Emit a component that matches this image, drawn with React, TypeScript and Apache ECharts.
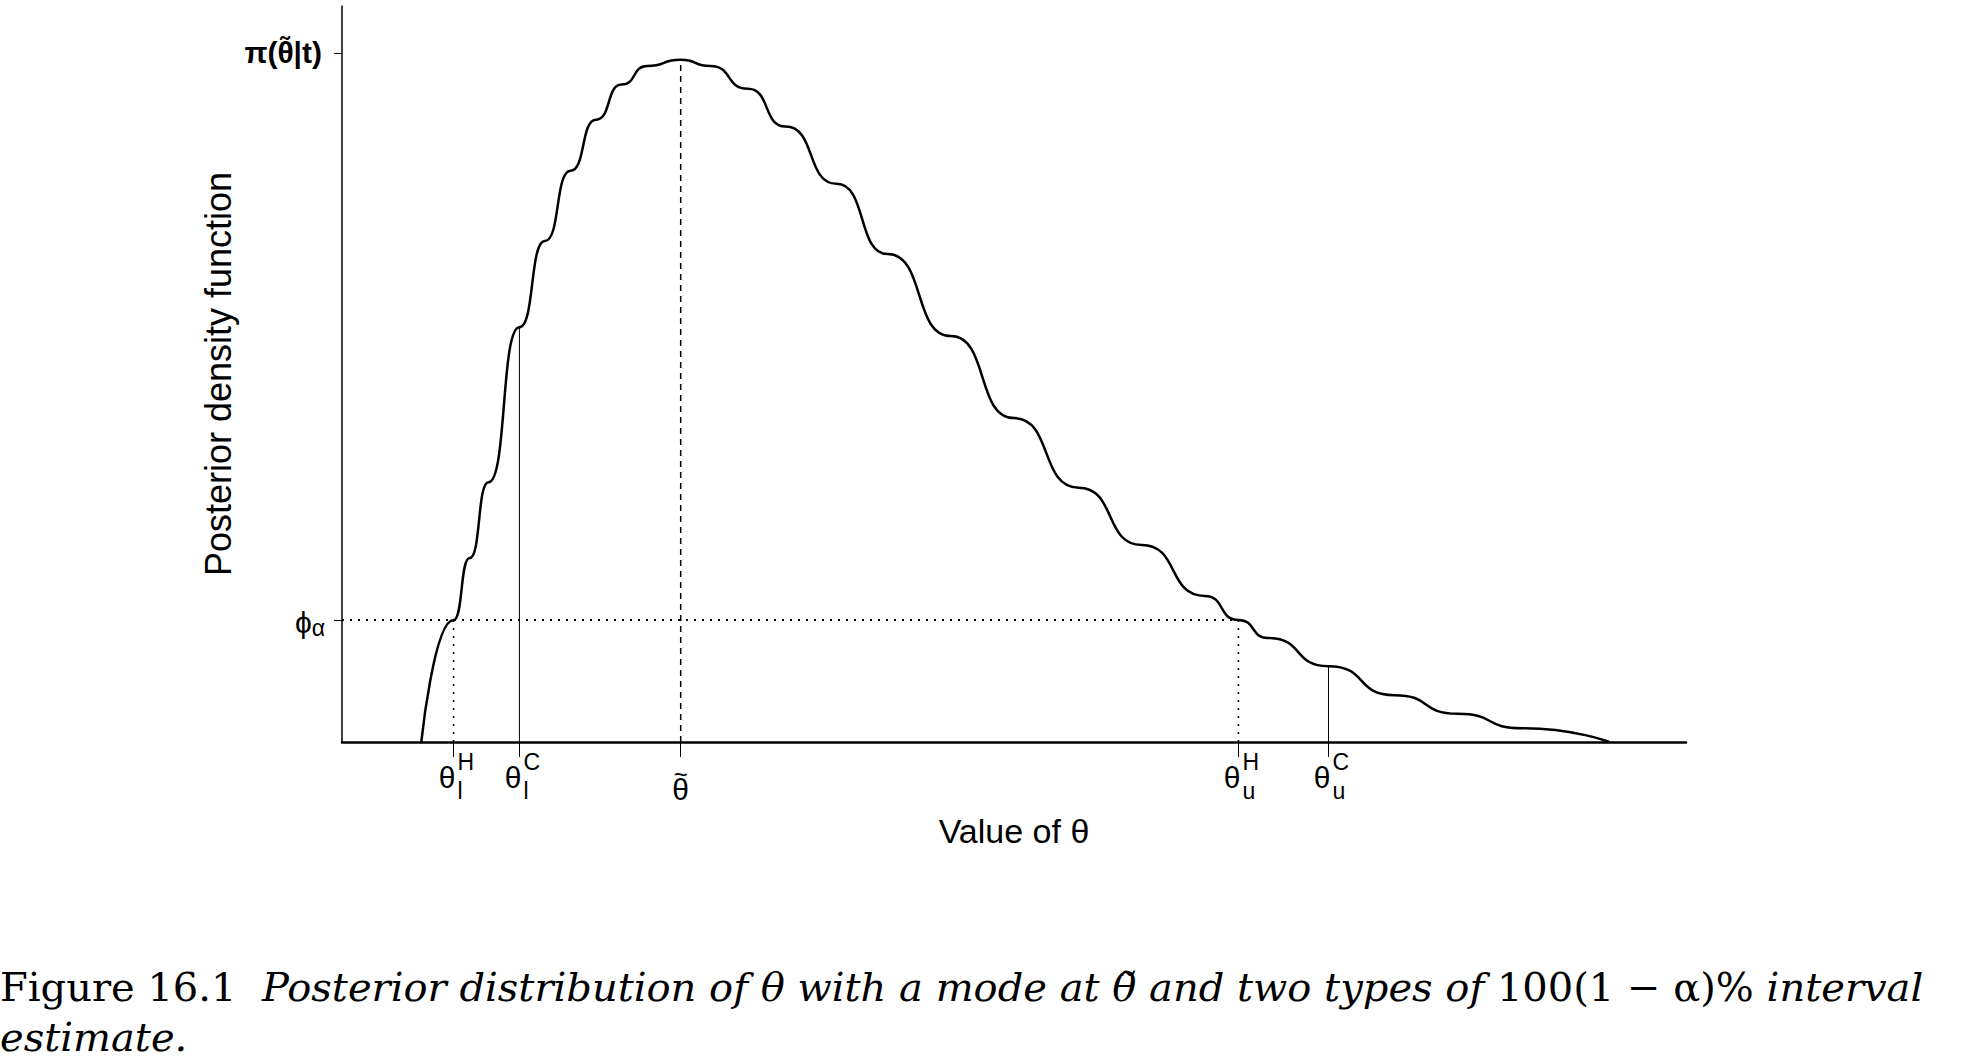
import * as echarts from "echarts";
import { useEffect, useRef } from "react";

// posterior density curve (x: 0-100, y: mode height = 1)
const curveX = [5.9, 8.3, 9.5, 10.9, 13.2, 15.1, 17.0, 18.9, 20.8, 22.7, 25.2, 27.4, 30.2, 33.0, 36.8, 40.6, 45.3, 50.0, 54.8, 59.5, 64.2, 66.7, 68.9, 73.4, 78.3, 83.0, 87.8, 94.3];
const curveY = [0, 0.177, 0.267, 0.377, 0.602, 0.727, 0.829, 0.903, 0.954, 0.981, 0.99, 0.981, 0.948, 0.893, 0.81, 0.708, 0.589, 0.47, 0.369, 0.286, 0.212, 0.177, 0.151, 0.11, 0.068, 0.041, 0.02, 0];

const xMarks = [8.3, 13.2, 25.2, 66.7, 73.4]; // θlH, θlC, mode, θuH, θuC
const xMarkTop = [0.177, 0.602, 0.99, 0.177, 0.11];
const xMarkStyle = ["dotted", "solid", "dashed", "dotted", "solid"];
const xMarkNames = [["θ", "H", "l"], ["θ", "C", "l"], ["θ", "~", ""], ["θ", "H", "u"], ["θ", "C", "u"]];
const yMarks = [1.0, 0.177];
const phiAlpha = 0.177;
const yMax = 1.068;

const series: any[] = [
	{
		type: "line",
		data: curveX.map((x, i) => [x, curveY[i]]),
		smooth: 0.6,
		smoothMonotone: "x",
		showSymbol: false,
		lineStyle: { color: "#000", width: 2.5 }
	},
	{
		type: "line",
		data: [[0, phiAlpha], [xMarks[3], phiAlpha]],
		showSymbol: false,
		lineStyle: { color: "#000", width: 2, type: [2, 6] }
	},
	...xMarks.map((x, i) => ({
		type: "line",
		data: [[x, 0], [x, xMarkTop[i]]],
		showSymbol: false,
		z: 1,
		lineStyle: {
			color: "#000",
			width: xMarkStyle[i] === "solid" ? 1 : 1.5,
			type: xMarkStyle[i] === "dotted" ? [2, 6] : xMarkStyle[i] === "dashed" ? [6, 5] : "solid"
		}
	}))
];

const NARROW = "Liberation Sans Narrow, Liberation Sans";

const App = () => {
	const chartRef = useRef<HTMLDivElement>(null);

	useEffect(() => {
		const chart = echarts.init(chartRef.current!, null, { renderer: "svg" });
		chart.setOption({
			animation: false,
			textStyle: { fontFamily: "Liberation Sans" },
			grid: { left: 342, top: 6, width: 1344, height: 736 },
			xAxis: {
				type: "value",
				min: 0,
				max: 100,
				splitLine: { show: false },
				axisLine: { lineStyle: { color: "#000", width: 2.5 } },
				axisTick: { customValues: xMarks, length: 15, lineStyle: { color: "#000", width: 1 } },
				axisLabel: { show: false },
				name: "Value of θ",
				nameLocation: "middle",
				nameGap: 72,
				nameTextStyle: { fontSize: 34, color: "#000", fontFamily: NARROW }
			},
			yAxis: {
				type: "value",
				min: 0,
				max: yMax,
				splitLine: { show: false },
				axisLine: { lineStyle: { color: "#000", width: 1.5 } },
				axisTick: { customValues: yMarks, length: 8, lineStyle: { color: "#000" } },
				axisLabel: { show: false },
				name: "Posterior density function",
				nameLocation: "middle",
				nameGap: 106,
				nameTextStyle: { fontSize: 36, color: "#000" }
			},
			series
		});

		const graphic: any[] = [];
		xMarkNames.forEach(([base, sup, sub], i) => {
			const [px, py] = chart.convertToPixel({ gridIndex: 0 }, [xMarks[i], 0]);
			if (sup === "~") {
				graphic.push({ type: "text", x: px, y: py + 20, style: { text: "~", font: "24px Liberation Sans", fill: "#000", align: "center", verticalAlign: "top" } });
				graphic.push({ type: "text", x: px, y: py + 32, style: { text: base, font: "30px " + NARROW, fill: "#000", align: "center", verticalAlign: "top" } });
				return;
			}
			graphic.push({
				type: "text", x: px + 2, y: py + 20,
				style: { text: base, font: "30px " + NARROW, fill: "#000", align: "right", verticalAlign: "top" }
			});
			graphic.push({ type: "text", x: px + 4, y: py + 8, style: { text: sup, font: "23px " + NARROW, fill: "#000", verticalAlign: "top" } });
			graphic.push({ type: "text", x: px + 4, y: py + 37, style: { text: sub, font: "23px " + NARROW, fill: "#000", verticalAlign: "top" } });
		});
		const [, pTop] = chart.convertToPixel({ gridIndex: 0 }, [0, yMarks[0]]);
		const [, pPhi] = chart.convertToPixel({ gridIndex: 0 }, [0, yMarks[1]]);
		graphic.push({
			type: "text", x: 322, y: pTop,
			style: { text: "π(θ̃|t)", font: "bold 30px " + NARROW, fill: "#000", align: "right", verticalAlign: "middle" }
		});
		graphic.push({
			type: "text", x: 325, y: pPhi + 2,
			style: { text: "{a|ϕ}{b|α}", fill: "#000", align: "right", verticalAlign: "middle",
				rich: { a: { font: "30px " + NARROW, fill: "#000" }, b: { font: "23px " + NARROW, fill: "#000", padding: [12, 0, 0, 0] } } }
		});
		graphic.push({
			type: "text", x: 0, y: 962,
			style: {
				text: "{n|Figure 16.1  }{i|Posterior distribution of θ with a mode at θ̃ and two types of }{n|100(1 − α)%}{i| interval}\n{i|estimate.}",
				lineHeight: 50,
				rich: {
					n: { font: "40px DejaVu Serif", fill: "#000", lineHeight: 50 },
					i: { font: "italic 40px DejaVu Serif", fill: "#000", lineHeight: 50 }
				}
			}
		});
		chart.setOption({ graphic });

		return () => {
			chart.dispose();
		};
	}, []);

	return <div ref={chartRef} style={{ position: "absolute", left: 0, top: 0, width: "1988px", height: "1064px" }} />;
};

export default App;
